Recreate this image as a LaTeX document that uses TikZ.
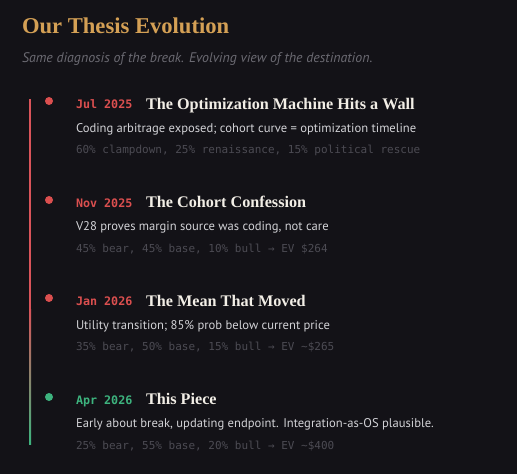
\documentclass[tikz,border=0pt]{standalone}
\usepackage{fontspec}
\setmainfont{PT Sans}
\newfontfamily\headfont{Liberation Serif}
\newfontfamily\monofont{DejaVu Sans Mono}
\definecolor{bg}{HTML}{131217}
\definecolor{gold}{HTML}{D4A055}
\definecolor{subgray}{HTML}{6B6A72}
\definecolor{datered}{HTML}{DB4F4F}
\definecolor{dategreen}{HTML}{3DB37E}
\definecolor{titlewhite}{HTML}{F2EEE6}
\definecolor{desctext}{HTML}{D2D2D6}
\definecolor{monogray}{HTML}{4C4B53}
\definecolor{linered}{HTML}{D9545A}
\definecolor{linegreen}{HTML}{3DB37E}
\tikzset{
  txt/.style={anchor=base west, inner sep=0pt, outer sep=0pt},
  heading/.style={txt, text=gold, font=\headfont\bfseries\fontsize{22.6}{24}\selectfont},
  subtitle/.style={txt, text=subgray, font=\itshape\fontsize{13.9}{15}\selectfont},
  datelbl/.style={txt, font=\monofont\bfseries\fontsize{11.7}{13}\selectfont},
  ititle/.style={txt, text=titlewhite, font=\headfont\bfseries\fontsize{16.2}{18}\selectfont},
  desc/.style={txt, text=desctext, font=\fontsize{12.6}{15}\selectfont},
  mono/.style={txt, text=monogray, font=\monofont\fontsize{11}{12}\selectfont},
  dot/.style={circle, inner sep=0pt, minimum size=8pt},
}
\begin{document}
\begin{tikzpicture}[x=1pt,y=-1pt]
\fill[bg] (0,0) rectangle (517,474);
\useasboundingbox (0,0) rectangle (517,474);
% timeline bar
\fill[linered] (29,99) rectangle (31,310);
\shade[top color=linered, bottom color=linegreen] (29,309.5) rectangle (31,444);
\node[heading] (h) at (22,33) {Our Thesis Evolution};
\node[subtitle] (s) at (22,62) {Same diagnosis of the break. Evolving view of the destination.};
% item 1
\node[dot, fill=datered] (d1) at (49,101) {};
\node[datelbl, text=datered] (t1) at (76,108.5) {Jul 2025};
\node[ititle] (n1) at (146,109) {The Optimization Machine Hits a Wall};
\node[desc] (e1) at (76,132) {Coding arbitrage exposed; cohort curve = optimization timeline};
\node[mono] (m1) at (76,153.5) {60\% clampdown, 25\% renaissance, 15\% political rescue};
% item 2
\node[dot, fill=datered] (d2) at (49,200) {};
\node[datelbl, text=datered] (t2) at (76,207) {Nov 2025};
\node[ititle] (n2) at (146,207.5) {The Cohort Confession};
\node[desc] (e2) at (76,230.5) {V28 proves margin source was coding, not care};
\node[mono] (m2) at (76,252) {45\% bear, 45\% base, 10\% bull → EV \$264};
% item 3
\node[dot, fill=datered] (d3) at (49,298) {};
\node[datelbl, text=datered] (t3) at (76,305.5) {Jan 2026};
\node[ititle] (n3) at (146,306) {The Mean That Moved};
\node[desc] (e3) at (76,329) {Utility transition; 85\% prob below current price};
\node[mono] (m3) at (76,350.5) {35\% bear, 50\% base, 15\% bull → EV \textasciitilde\$265};
% item 4
\node[dot, fill=dategreen] (d4) at (49,397) {};
\node[datelbl, text=dategreen] (t4) at (76,404) {Apr 2026};
\node[ititle] (n4) at (146,404.5) {This Piece};
\node[desc] (e4) at (76,427.5) {Early about break, updating endpoint. Integration-as-OS plausible.};
\node[mono] (m4) at (76,449) {25\% bear, 55\% base, 20\% bull → EV \textasciitilde\$400};
\end{tikzpicture}
\end{document}
